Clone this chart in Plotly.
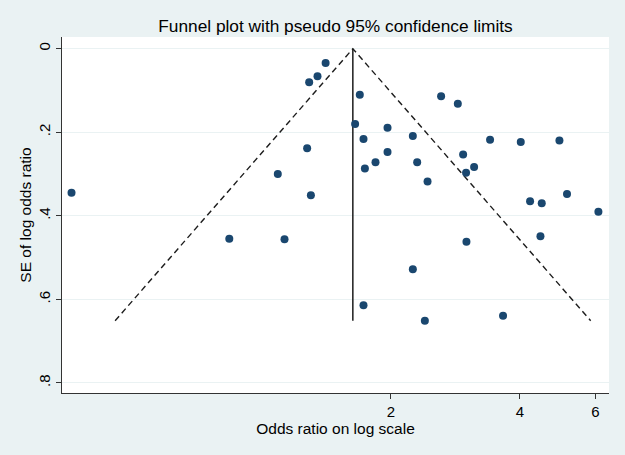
import plotly.graph_objects as go

# Study estimates (odds ratio, SE of log odds ratio)
odds_ratio = [
    1.409, 1.349, 1.290, 1.693, 1.651, 1.965, 1.727, 1.276, 1.965, 1.842,
    1.740, 1.090, 2.620, 2.866, 2.251, 3.408, 4.019, 4.946, 2.949, 3.128,
    2.996, 2.304, 2.436, 4.225, 4.498, 5.152, 6.098, 1.302, 0.840, 1.130,
    1.727, 3.002, 4.467, 2.251, 2.401, 3.654, 0.360,
]
se_log_or = [
    0.034, 0.066, 0.080, 0.110, 0.180, 0.189, 0.216, 0.238, 0.247, 0.272,
    0.287, 0.300, 0.114, 0.132, 0.209, 0.218, 0.223, 0.220, 0.253, 0.283,
    0.297, 0.272, 0.318, 0.365, 0.370, 0.348, 0.390, 0.351, 0.455, 0.456,
    0.614, 0.462, 0.449, 0.528, 0.651, 0.639, 0.345,
]

# pseudo 95% limits: lower end, apex, upper end
funnel_or = [0.455, 1.631, 5.85]
funnel_se = [0.651, 0.0, 0.651]

# pooled estimate line
pooled_or = [1.631, 1.631]
pooled_se = [0.0, 0.651]

y_ticks = [0, 0.2, 0.4, 0.6, 0.8]
y_tick_text = ["0", ".2", ".4", ".6", ".8"]
x_ticks = [2, 4, 6]
x_tick_text = ["2", "4", "6"]

bg = "#eaf2f3"
font = "Liberation Sans, Arial, sans-serif"

fig = go.Figure()

fig.add_trace(
    go.Scatter(
        x=funnel_or,
        y=funnel_se,
        mode="lines",
        line=dict(color="#1c1c1c", width=1.4, dash="6px,4px"),
        showlegend=False,
        hoverinfo="skip",
    )
)
fig.add_trace(
    go.Scatter(
        x=pooled_or,
        y=pooled_se,
        mode="lines",
        line=dict(color="#1c1c1c", width=1.5),
        showlegend=False,
        hoverinfo="skip",
    )
)
fig.add_trace(
    go.Scatter(
        x=odds_ratio,
        y=se_log_or,
        mode="markers",
        marker=dict(color="#1a476f", size=8),
        showlegend=False,
    )
)

fig.update_layout(
    width=625,
    height=455,
    paper_bgcolor=bg,
    plot_bgcolor="white",
    margin=dict(l=62, r=16, t=37, b=62),
    font=dict(family=font, size=15, color="black"),
    title=dict(
        text="Funnel plot with pseudo 95% confidence limits",
        x=0.5,
        xref="paper",
        y=0.9435,
        yanchor="middle",
        font=dict(size=17.3, color="black"),
    ),
    xaxis=dict(
        type="log",
        range=[-0.4659, 0.8099],
        tickvals=x_ticks,
        ticktext=x_tick_text,
        ticks="outside",
        ticklen=5,
        tickcolor="#333",
        tickfont=dict(size=15),
        showgrid=False,
        zeroline=False,
        showline=True,
        linecolor="#333",
        linewidth=1,
        automargin=False,
        title=dict(text="Odds ratio on log scale", standoff=1, font=dict(size=15.5)),
    ),
    yaxis=dict(
        range=[0.824, -0.028],
        tickvals=y_ticks,
        ticktext=y_tick_text,
        tickangle=-90,
        ticks="outside",
        ticklen=5,
        tickcolor="#333",
        tickfont=dict(size=15),
        showgrid=True,
        gridcolor=bg,
        gridwidth=1,
        zeroline=False,
        showline=True,
        linecolor="#333",
        linewidth=1,
        automargin=False,
        title=dict(text="SE of log odds ratio", standoff=0, font=dict(size=15.5)),
    ),
)

# drop the browser's default body margin so the figure sits at the page corner
fig.write_html(
    "out.html",
    config={"displayModeBar": False},
    post_script="document.body.style.margin='0';",
)
